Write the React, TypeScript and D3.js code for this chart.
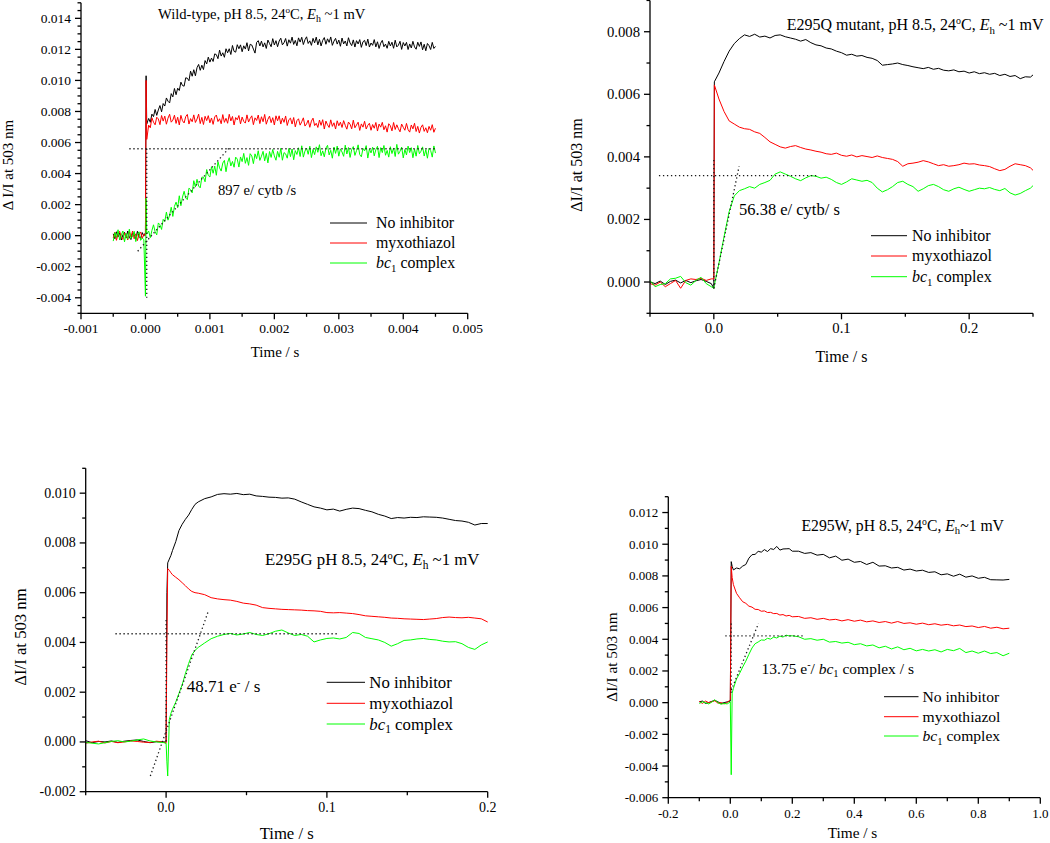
import React from 'react';
import * as d3 from 'd3';

const SERIF = '"Liberation Serif", "Times New Roman", Times, serif';

const legendLabels = ['No inhibitor', 'myxothiazol', 'bc1 complex'];
const seriesColors = ['#000000', '#ff0000', '#00ff00'];

// ---------- Panel A: wild-type. time in microseconds, ΔI/I in units of 1e-5 ----------
const wtTimeUs = [
  -500, -475, -450, -425, -400, -375, -350, -325, -300, -275,
  -250, -225, -200, -175, -150, -125, -100, -75, -50, -25,
  0, 10, 20,
  50, 75, 100, 125, 150, 175, 200, 225, 250, 275,
  300, 325, 350, 375, 400, 425, 450, 475, 500, 525,
  550, 575, 600, 625, 650, 675, 700, 725, 750, 775,
  800, 825, 850, 875, 900, 925, 950, 975, 1000, 1025,
  1050, 1075, 1100, 1125, 1150, 1175, 1200, 1225, 1250, 1275,
  1300, 1325, 1350, 1375, 1400, 1425, 1450, 1475, 1500, 1525,
  1550, 1575, 1600, 1625, 1650, 1675, 1700, 1725, 1750, 1775,
  1800, 1825, 1850, 1875, 1900, 1925, 1950, 1975, 2000, 2025,
  2050, 2075, 2100, 2125, 2150, 2175, 2200, 2225, 2250, 2275,
  2300, 2325, 2350, 2375, 2400, 2425, 2450, 2475, 2500, 2525,
  2550, 2575, 2600, 2625, 2650, 2675, 2700, 2725, 2750, 2775,
  2800, 2825, 2850, 2875, 2900, 2925, 2950, 2975, 3000, 3025,
  3050, 3075, 3100, 3125, 3150, 3175, 3200, 3225, 3250, 3275,
  3300, 3325, 3350, 3375, 3400, 3425, 3450, 3475, 3500, 3525,
  3550, 3575, 3600, 3625, 3650, 3675, 3700, 3725, 3750, 3775,
  3800, 3825, 3850, 3875, 3900, 3925, 3950, 3975, 4000, 4025,
  4050, 4075, 4100, 4125, 4150, 4175, 4200, 4225, 4250, 4275,
  4300, 4325, 4350, 4375, 4400, 4425, 4450, 4475, 4500,
];
const wtNoInhibitor = [
  12, -20, 25, -8, 18, -28, 5, 22, -15, 30,
  -10, -25, 15, 8, -22, 28, -5, -18, 20, -3,
  20, 1030, 720,
  755, 730, 783, 767, 813, 775, 810, 838, 798, 851,
  835, 887, 866, 855, 915, 894, 948, 908, 950, 935,
  989, 967, 963, 1017, 1014, 998, 1060, 1027, 1069, 1030,
  1082, 1103, 1065, 1098, 1070, 1128, 1106, 1150, 1118, 1144,
  1122, 1171, 1166, 1140, 1195, 1157, 1178, 1149, 1204, 1178,
  1204, 1167, 1225, 1187, 1182, 1230, 1204, 1229, 1185, 1223,
  1202, 1243, 1190, 1233, 1228, 1202, 1176, 1245, 1256, 1222,
  1253, 1216, 1242, 1206, 1260, 1238, 1217, 1269, 1228, 1256,
  1217, 1254, 1272, 1229, 1243, 1270, 1221, 1262, 1240, 1279,
  1232, 1258, 1223, 1274, 1247, 1278, 1231, 1262, 1281, 1238,
  1255, 1226, 1271, 1242, 1279, 1229, 1265, 1222, 1258, 1276,
  1233, 1268, 1245, 1280, 1226, 1253, 1271, 1234, 1260, 1220,
  1273, 1235, 1254, 1222, 1275, 1241, 1224, 1261, 1215, 1256,
  1235, 1263, 1213, 1249, 1258, 1224, 1266, 1215, 1241, 1226,
  1263, 1216, 1249, 1206, 1240, 1258, 1217, 1234, 1207, 1252,
  1222, 1246, 1207, 1259, 1216, 1227, 1252, 1200, 1244, 1222,
  1245, 1199, 1235, 1209, 1252, 1216, 1201, 1246, 1219, 1248,
  1197, 1233, 1191, 1238, 1224, 1199, 1245, 1206, 1219,
];
const wtMyxothiazol = [
  -15, 22, -30, 10, 28, -12, -25, 18, 5, -28,
  25, -8, 30, -20, 12, -32, 8, 24, -18, 10,
  0, 1000, 620,
  712, 695, 759, 731, 714, 763, 752, 715, 774, 738,
  770, 718, 757, 782, 731, 744, 776, 723, 763, 713,
  775, 740, 726, 767, 781, 719, 754, 734, 778, 729,
  751, 783, 722, 762, 716, 769, 741, 773, 727, 758,
  717, 765, 777, 735, 753, 721, 780, 730, 756, 724,
  782, 739, 768, 713, 761, 746, 774, 720, 764, 736,
  725, 778, 732, 755, 772, 715, 759, 742, 777, 722,
  766, 734, 781, 718, 750, 770, 728, 760, 713, 772,
  740, 772, 719, 757, 730, 771, 710, 747, 757, 719,
  761, 701, 741, 753, 712, 734, 759, 706, 720, 744,
  698, 738, 757, 709, 724, 697, 745, 711, 747, 687,
  738, 714, 697, 746, 704, 727, 687, 740, 708, 731,
  697, 741, 711, 686, 732, 718, 688, 744, 695, 713,
  731, 678, 720, 699, 737, 687, 711, 724, 679, 716,
  692, 729, 674, 719, 699, 730, 682, 708, 667, 721,
  708, 675, 729, 684, 714, 689, 669, 719, 698, 679,
  723, 683, 667, 713, 688, 724, 671, 704, 661, 698,
  714, 672, 695, 663, 704, 679, 715, 666, 692,
];
const wtBc1 = [
  -35, 20, -12, 38, -28, 5, 30, -40, 15, -22,
  42, -18, -5, 28, -38, 10, 25, -30, -15, -25,
  -390, 240, 10,
  30, -13, 33, 70, 25, 5, 82, 70, 40, 105,
  92, 152, 100, 132, 183, 124, 189, 216, 180, 257,
  193, 249, 286, 243, 232, 306, 296, 276, 354, 313,
  363, 320, 308, 377, 377, 347, 426, 388, 378, 444,
  402, 448, 389, 477, 437, 416, 468, 485, 412, 471,
  502, 449, 478, 441, 506, 493, 442, 507, 477, 530,
  466, 503, 453, 528, 514, 464, 527, 496, 547, 485,
  512, 543, 482, 530, 469, 542, 504, 555, 514, 486,
  543, 505, 563, 486, 535, 527, 499, 562, 509, 558,
  489, 548, 523, 566, 510, 579, 506, 545, 564, 524,
  576, 503, 555, 522, 572, 537, 586, 515, 546, 508,
  564, 582, 520, 550, 499, 571, 530, 577, 512, 559,
  539, 511, 583, 526, 568, 504, 555, 574, 517, 548,
  585, 522, 508, 562, 546, 580, 500, 558, 533, 570,
  514, 554, 576, 503, 567, 535, 581, 518, 549, 506,
  573, 529, 565, 510, 588, 525, 544, 571, 501, 555,
  520, 577, 535, 567, 502, 558, 512, 581, 528, 544,
  572, 513, 554, 499, 563, 549, 506, 578, 532,
];
const wtXTicks = [-0.001, 0, 0.001, 0.002, 0.003, 0.004, 0.005];
const wtYTicks = [-0.004, -0.002, 0, 0.002, 0.004, 0.006, 0.008, 0.01, 0.012, 0.014];
const wtGuides: [number, number][][] = [
  [[-0.00025, 0.0056], [0.0045, 0.0056]],
  [[0.00002, 0.0056], [0.00002, -0.004]],
  [[-0.00012, -0.001], [0.00131, 0.0057]],
];

// ---------- Panel B: E295Q. time in ms, ΔI/I in units of 1e-5 ----------
const qTimeMs = [
  -50, -46, -42, -38, -34, -30, -26, -22, -18, -14, -10, -6, -2,
  0, 0.4,
  4, 8, 12, 16, 20, 24, 28, 32, 36, 40, 44, 48, 52, 56, 60, 64, 68, 72, 76, 80,
  84, 88, 92, 96, 100, 104, 108, 112, 116, 120, 124, 128, 132, 136, 140, 144, 148, 152, 156, 160,
  164, 168, 172, 176, 180, 184, 188, 192, 196, 200, 204, 208, 212, 216, 220, 224, 228, 232, 236, 240,
  244, 248, 250,
];
const qNoInhibitor = [
  0, -5, 3, -8, 2, 6, -3, 5, -2, 4, 8, 2, -5,
  -20, 640,
  668, 705, 738, 762, 778, 790, 785, 792, 783, 786,
  780, 788, 790, 784, 780, 776, 770, 775, 765, 758,
  755, 748, 745, 738, 733, 725, 728, 722, 724, 718,
  715, 708, 693, 695, 697, 700, 695, 692, 688, 685,
  682, 686, 680, 683, 677, 675, 678, 672, 674, 668,
  672, 666, 669, 664, 667, 660, 664, 657, 660, 650,
  656, 655, 662,
];
const qMyxothiazol = [
  -5, -10, 0, -15, -5, 5, -20, 5, 10, 8, 12, 5, 10,
  10, 630,
  585, 545, 515, 505, 495, 490, 488, 480, 475, 462,
  448, 440, 432, 428, 433, 436, 430, 425, 422, 418,
  415, 410, 408, 412, 405, 402, 406, 400, 404, 401,
  398, 403, 398, 395, 392, 385, 370, 378, 380, 383,
  388, 384, 378, 372, 375, 370, 372, 375, 380, 377,
  378, 374, 372, 369, 362, 356, 360, 370, 378, 375,
  372, 365, 357,
];
const qBc1 = [
  5, -15, -8, -5, 10, 12, 18, -2, -10, 5, 15, -5, -15,
  -20, -10,
  60, 145, 225, 275, 292, 298, 305, 300, 312, 318,
  325, 345, 352, 345, 338, 330, 324, 333, 340, 338,
  332, 335, 328, 318, 312, 320, 330, 326, 322, 325,
  318, 300, 288, 295, 305, 318, 322, 312, 305, 290,
  298, 308, 312, 305, 295, 290, 298, 303, 296, 290,
  295, 300, 298, 302, 296, 292, 299, 285, 278, 283,
  292, 300, 308,
];
const qXTicks = [0, 0.1, 0.2];
const qYTicks = [0, 0.002, 0.004, 0.006, 0.008];
const qGuides: [number, number][][] = [
  [[-0.043, 0.0034], [0.081, 0.0034]],
  [[0, 0.0039], [0, -0.0002]],
  [[0, -0.0002], [0.0198, 0.0037]],
];

// ---------- Panel C: E295G. time in ms, ΔI/I in units of 1e-5 ----------
const gTimeMs = [
  -50, -46, -42, -38, -34, -30, -26, -22, -18, -14, -10, -6, -2,
  0, 0.5, 1, 2, 3, 4, 6, 8, 10, 12, 14, 16, 18, 20,
  24, 28, 32, 36, 40, 44, 48, 52, 56, 60, 64, 68, 72, 76, 80, 84, 88, 92, 96, 100,
  104, 108, 112, 116, 120, 124, 128, 132, 136, 140, 144, 148, 152, 156, 160,
  164, 168, 172, 176, 180, 184, 188, 192, 196, 200,
];
const gNoInhibitor = [
  5, -3, 2, 0, 4, -2, 3, 6, 8, 2, -3, 1, 0,
  0, 600, 720, 735, 750, 770, 805, 850, 875, 895, 912, 935, 955, 965,
  978, 985, 995, 998, 996, 999, 994, 996, 989, 987,
  984, 983, 980, 981, 976, 965, 955, 945, 940, 933,
  936, 928, 935, 940, 938, 931, 925, 915, 908, 898,
  902, 900, 903, 902, 905, 904, 903, 900, 895, 890,
  888, 883, 872, 878, 878,
];
const gMyxothiazol = [
  -5, 0, 3, -4, 2, -3, 0, 4, 2, -1, -2, 3, 0,
  -5, 400, 697, 690, 680, 672, 662, 652, 640, 628, 615, 605, 600, 598,
  592, 580, 575, 572, 570, 565, 558, 555, 550, 540,
  537, 535, 533, 532, 531, 530, 528, 527, 525, 520,
  519, 520, 518, 516, 512, 507, 505, 503, 501, 498,
  497, 495, 494, 493, 492, 494, 496, 500, 502, 500,
  499, 501, 498, 495, 482,
];
const gBc1 = [
  -2, -5, -8, -3, 2, 5, 0, 3, 8, 12, 4, 0, -2,
  -5, -80, -137, 90, 115, 132, 160, 195, 230, 275, 315, 350, 368, 380,
  398, 415, 425, 432, 436, 430, 434, 440, 432, 428,
  435, 445, 450, 438, 428, 432, 425, 402, 410, 416,
  418, 414, 420, 440, 436, 420, 415, 410, 400, 385,
  395, 408, 410, 414, 416, 412, 410, 405, 402, 403,
  395, 380, 372, 390, 402,
];
const gXTicks = [0, 0.1, 0.2];
const gYTicks = [-0.002, 0, 0.002, 0.004, 0.006, 0.008, 0.01];
const gGuides: [number, number][][] = [
  [[-0.0315, 0.00435], [0.107, 0.00435]],
  [[0, 0.0049], [0, 0]],
  [[-0.0098, -0.00137], [0.0265, 0.0053]],
];

// ---------- Panel D: E295W. time in s, ΔI/I in units of 1e-5 ----------
const wTimeS = [
  -0.1, -0.09, -0.08, -0.07, -0.06, -0.05, -0.04, -0.03, -0.02, -0.01,
  0, 0.003, 0.006,
  0.01, 0.02, 0.03, 0.04, 0.05, 0.06, 0.07, 0.08, 0.09, 0.1,
  0.11, 0.12, 0.13, 0.14, 0.15, 0.16, 0.17, 0.18, 0.19, 0.2,
  0.22, 0.24, 0.26, 0.28, 0.3, 0.32, 0.34, 0.36, 0.38, 0.4,
  0.42, 0.44, 0.46, 0.48, 0.5, 0.52, 0.54, 0.56, 0.58, 0.6,
  0.62, 0.64, 0.66, 0.68, 0.7, 0.72, 0.74, 0.76, 0.78, 0.8,
  0.82, 0.84, 0.86, 0.88, 0.9,
];
const wNoInhibitor = [
  5, 10, -5, 0, 8, 15, 5, -5, 0, 5,
  10, 890, 860,
  838, 850, 845, 862, 872, 912, 934, 936, 955, 950,
  966, 954, 972, 967, 986, 963, 970, 971, 972, 956,
  956, 942, 947, 931, 936, 914, 925, 899, 906, 886,
  891, 872, 886, 862, 864, 850, 854, 837, 843, 831,
  836, 822, 826, 807, 813, 798, 811, 792, 800, 785,
  791, 776, 775, 774, 778,
];
const wMyxothiazol = [
  8, -5, 10, 0, 5, 12, -3, 0, -8, 0,
  20, 860, 790,
  745, 690, 662, 637, 627, 609, 603, 589, 588, 577,
  579, 569, 570, 562, 563, 553, 556, 547, 551, 542,
  544, 532, 536, 526, 532, 522, 526, 516, 524, 514,
  521, 510, 516, 506, 512, 502, 512, 500, 504, 495,
  502, 492, 498, 489, 494, 485, 490, 480, 484, 474,
  481, 470, 476, 466, 470,
];
const wBc1 = [
  -5, 5, 0, -8, 3, 18, 0, -10, -5, -8,
  5, -455, 60,
  90, 150, 185, 225, 262, 305, 345, 372, 383, 396,
  394, 406, 401, 414, 408, 420, 414, 426, 421, 422,
  416, 400, 404, 394, 400, 382, 386, 376, 381, 366,
  372, 358, 364, 346, 356, 339, 352, 334, 343, 327,
  336, 326, 334, 320, 336, 328, 342, 316, 326, 312,
  326, 310, 316, 296, 312,
];
const wXTicks = [-0.2, 0, 0.2, 0.4, 0.6, 0.8, 1.0];
const wYTicks = [-0.006, -0.004, -0.002, 0, 0.002, 0.004, 0.006, 0.008, 0.01, 0.012];
const wGuides: [number, number][][] = [
  [[-0.016, 0.00421], [0.236, 0.00421]],
  [[0.003, 0.005], [0.003, 0.00057]],
  [[0.003, 0.00078], [0.091, 0.005]],
];

type Pt = [number, number];

interface PanelCfg {
  key: string;
  left: number; right: number; top: number; bottom: number;
  xDomain: [number, number]; yDomain: [number, number];
  xTicks: number[]; yTicks: number[];
  xMinor: number; yMinor: number;
  xDigits: number; yDigits: number;
  time: number[]; tUnit: number;
  series: number[][]; vUnit: number;
  guides: Pt[][];
  tickFont: number;
  xLabel: { x: number; y: number; size: number };
  yLabel: { text: string; x: number; y: number; size: number };
  title: { lead: string; x: number; y: number; size: number; gap: string };
  legend: { x1: number; x2: number; tx: number; ys: number[]; size: number };
  note: { x: number; y: number; size: number; kind: 'cytb' | 'cytb2' | 'e' | 'bc' };
}

const panels: PanelCfg[] = [
  {
    key: 'wt', left: 81, right: 467.7, top: 2.8, bottom: 313.3,
    xDomain: [-0.001, 0.005], yDomain: [-0.005, 0.015],
    xTicks: wtXTicks, yTicks: wtYTicks, xMinor: 0.0005, yMinor: 0.0005, xDigits: 3, yDigits: 3,
    time: wtTimeUs, tUnit: 1e-6, series: [wtNoInhibitor, wtMyxothiazol, wtBc1], vUnit: 1e-5,
    guides: wtGuides, tickFont: 13.5,
    xLabel: { x: 275, y: 357, size: 15 },
    yLabel: { text: 'Δ I/I at 503 nm', x: 13, y: 165, size: 15 },
    title: { lead: 'Wild-type, pH 8.5, 24', x: 158, y: 19, size: 14.6, gap: ' ' },
    legend: { x1: 330, x2: 367, tx: 376, ys: [223, 243, 263], size: 15.9 },
    note: { x: 218, y: 195, size: 14.6, kind: 'cytb' },
  },
  {
    key: 'q', left: 650, right: 1033, top: 0.45, bottom: 313.3,
    xDomain: [-0.05, 0.25], yDomain: [-0.001, 0.009],
    xTicks: qXTicks, yTicks: qYTicks, xMinor: 0.05, yMinor: 0.001, xDigits: 1, yDigits: 3,
    time: qTimeMs, tUnit: 1e-3, series: [qNoInhibitor, qMyxothiazol, qBc1], vUnit: 1e-5,
    guides: qGuides, tickFont: 14.7,
    xLabel: { x: 841.5, y: 362, size: 16 },
    yLabel: { text: 'ΔI/I at 503 nm', x: 582, y: 165, size: 16 },
    title: { lead: 'E295Q mutant, pH 8.5, 24', x: 786.7, y: 30, size: 16, gap: ' ' },
    legend: { x1: 871, x2: 907, tx: 912, ys: [235.7, 256, 276.7], size: 16 },
    note: { x: 739, y: 215, size: 16.5, kind: 'cytb2' },
  },
  {
    key: 'g', left: 85.7, right: 487.7, top: 468.3, bottom: 791.7,
    xDomain: [-0.05, 0.2], yDomain: [-0.002, 0.011],
    xTicks: gXTicks, yTicks: gYTicks, xMinor: 0.05, yMinor: 0.001, xDigits: 1, yDigits: 3,
    time: gTimeMs, tUnit: 1e-3, series: [gNoInhibitor, gMyxothiazol, gBc1], vUnit: 1e-5,
    guides: gGuides, tickFont: 14,
    xLabel: { x: 286.7, y: 839, size: 16.7 },
    yLabel: { text: 'ΔI/I at 503 nm', x: 26, y: 637, size: 16.7 },
    title: { lead: 'E295G pH 8.5, 24', x: 265, y: 565, size: 16.8, gap: ' ' },
    legend: { x1: 326.7, x2: 365, tx: 369.3, ys: [682.3, 703.3, 724], size: 16.8 },
    note: { x: 186.7, y: 692, size: 17, kind: 'e' },
  },
  {
    key: 'w', left: 668.3, right: 1040.3, top: 496.7, bottom: 797.7,
    xDomain: [-0.2, 1.0], yDomain: [-0.006, 0.013],
    xTicks: wXTicks, yTicks: wYTicks, xMinor: 0.1, yMinor: 0.001, xDigits: 1, yDigits: 3,
    time: wTimeS, tUnit: 1, series: [wNoInhibitor, wMyxothiazol, wBc1], vUnit: 1e-5,
    guides: wGuides, tickFont: 13,
    xLabel: { x: 852.5, y: 838, size: 15.3 },
    yLabel: { text: 'ΔI/I at 503 nm', x: 617, y: 657, size: 15.3 },
    title: { lead: 'E295W, pH 8.5, 24', x: 801.5, y: 531, size: 15.7, gap: '' },
    legend: { x1: 884, x2: 918.5, tx: 922.5, ys: [696.7, 716.7, 736], size: 15.6 },
    note: { x: 761.5, y: 674, size: 15.5, kind: 'bc' },
  },
];

function minorValues(dom: [number, number], step: number, majors: number[]): number[] {
  const out: number[] = [];
  const i0 = Math.ceil(dom[0] / step - 1e-6);
  const i1 = Math.floor(dom[1] / step + 1e-6);
  for (let i = i0; i <= i1; i++) {
    const v = i * step;
    if (!majors.some((m) => Math.abs(m - v) < step * 1e-3)) out.push(v);
  }
  return out;
}

function fmt(v: number, digits: number): string {
  if (Math.abs(v) < 1e-12) return (0).toFixed(digits);
  return v.toFixed(digits);
}

function Note({ n }: { n: PanelCfg['note'] }) {
  const s = n.size;
  if (n.kind === 'cytb') return <text x={n.x} y={n.y} fontSize={s}>897 e/ cytb /s</text>;
  if (n.kind === 'cytb2') return <text x={n.x} y={n.y} fontSize={s}>56.38 e/ cytb/ s</text>;
  if (n.kind === 'e')
    return (
      <text x={n.x} y={n.y} fontSize={s}>
        48.71 e<tspan dy={-s * 0.38} fontSize={s * 0.65}>-</tspan>
        <tspan dy={s * 0.38}> / s</tspan>
      </text>
    );
  return (
    <text x={n.x} y={n.y} fontSize={s}>
      13.75 e<tspan dy={-s * 0.38} fontSize={s * 0.65}>-</tspan>
      <tspan dy={s * 0.38}>/ </tspan>
      <tspan fontStyle="italic">bc</tspan>
      <tspan dy={s * 0.22} fontSize={s * 0.68}>1</tspan>
      <tspan dy={-s * 0.22}> complex / s</tspan>
    </text>
  );
}

function Panel({ cfg }: { cfg: PanelCfg }) {
  const x = d3.scaleLinear().domain(cfg.xDomain).range([cfg.left, cfg.right]);
  const y = d3.scaleLinear().domain(cfg.yDomain).range([cfg.bottom, cfg.top]);
  const line = d3.line<Pt>().x((d) => x(d[0])).y((d) => y(d[1]));
  const xMinors = minorValues(cfg.xDomain, cfg.xMinor, cfg.xTicks);
  const yMinors = minorValues(cfg.yDomain, cfg.yMinor, cfg.yTicks);
  const axisW = 1.3;
  const major = 6;
  const minor = 3.5;
  const t = cfg.title;
  const lg = cfg.legend;
  return (
    <g>
      {cfg.series.map((vals, si) => {
        const pts: Pt[] = vals.map((v, i) => [cfg.time[i] * cfg.tUnit, v * cfg.vUnit]);
        return (
          <path key={si} d={line(pts) || ''} fill="none" stroke={seriesColors[si]} strokeWidth={1} strokeLinejoin="round" />
        );
      })}
      {cfg.guides.map((g, gi) => (
        <path key={gi} d={line(g) || ''} fill="none" stroke="#1a1a1a" strokeWidth={1.3} strokeDasharray="1.3 2.7" />
      ))}
      <line x1={cfg.left} x2={cfg.left} y1={cfg.top} y2={cfg.bottom + axisW / 2} stroke="#000" strokeWidth={axisW} />
      <line x1={cfg.left - axisW / 2} x2={cfg.right} y1={cfg.bottom} y2={cfg.bottom} stroke="#000" strokeWidth={axisW} />
      {cfg.yTicks.map((v) => (
        <g key={'yt' + v}>
          <line x1={cfg.left - major} x2={cfg.left} y1={y(v)} y2={y(v)} stroke="#000" strokeWidth={axisW} />
          <text x={cfg.left - 10} y={y(v)} fontSize={cfg.tickFont} textAnchor="end" dominantBaseline="central">
            {fmt(v, cfg.yDigits)}
          </text>
        </g>
      ))}
      {yMinors.map((v) => (
        <line key={'ym' + v} x1={cfg.left - minor} x2={cfg.left} y1={y(v)} y2={y(v)} stroke="#000" strokeWidth={axisW} />
      ))}
      {cfg.xTicks.map((v) => (
        <g key={'xt' + v}>
          <line x1={x(v)} x2={x(v)} y1={cfg.bottom} y2={cfg.bottom + major} stroke="#000" strokeWidth={axisW} />
          <text x={x(v)} y={cfg.bottom + 20} fontSize={cfg.tickFont} textAnchor="middle">
            {fmt(v, cfg.xDigits)}
          </text>
        </g>
      ))}
      {xMinors.map((v) => (
        <line key={'xm' + v} x1={x(v)} x2={x(v)} y1={cfg.bottom} y2={cfg.bottom + minor} stroke="#000" strokeWidth={axisW} />
      ))}
      <text x={cfg.xLabel.x} y={cfg.xLabel.y} fontSize={cfg.xLabel.size} textAnchor="middle">Time / s</text>
      <text
        transform={`translate(${cfg.yLabel.x},${cfg.yLabel.y}) rotate(-90)`}
        fontSize={cfg.yLabel.size}
        textAnchor="middle"
      >
        {cfg.yLabel.text}
      </text>
      <text x={t.x} y={t.y} fontSize={t.size}>
        {t.lead}
        <tspan dy={-t.size * 0.38} fontSize={t.size * 0.62}>o</tspan>
        <tspan dy={t.size * 0.38}>C, </tspan>
        <tspan fontStyle="italic">E</tspan>
        <tspan dy={t.size * 0.22} fontSize={t.size * 0.68}>h</tspan>
        <tspan dy={-t.size * 0.22}>{t.gap}~1 mV</tspan>
      </text>
      {legendLabels.map((lab, i) => (
        <g key={lab}>
          <line x1={lg.x1} x2={lg.x2} y1={lg.ys[i]} y2={lg.ys[i]} stroke={seriesColors[i]} strokeWidth={1} />
          {i < 2 ? (
            <text x={lg.tx} y={lg.ys[i] + lg.size * 0.33} fontSize={lg.size}>{lab}</text>
          ) : (
            <text x={lg.tx} y={lg.ys[i] + lg.size * 0.33} fontSize={lg.size}>
              <tspan fontStyle="italic">bc</tspan>
              <tspan dy={lg.size * 0.22} fontSize={lg.size * 0.68}>1</tspan>
              <tspan dy={-lg.size * 0.22}> complex</tspan>
            </text>
          )}
        </g>
      ))}
      <Note n={cfg.note} />
    </g>
  );
}

export default function App() {
  return (
    <svg
      width={1050}
      height={843}
      viewBox="0 0 1050 843"
      style={{ position: 'absolute', left: 0, top: 0, background: '#fff', fontFamily: SERIF }}
      fontFamily={SERIF}
      fill="#000"
    >
      <rect x={0} y={0} width={1050} height={843} fill="#fff" />
      {panels.map((p) => (
        <Panel key={p.key} cfg={p} />
      ))}
    </svg>
  );
}
